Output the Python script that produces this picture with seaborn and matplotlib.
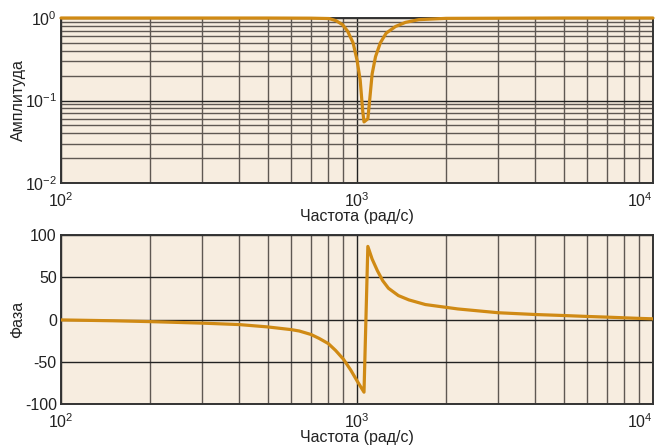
import numpy as np
import pandas as pd
import matplotlib
matplotlib.use("Agg")
import matplotlib.pyplot as plt
import seaborn as sns
from matplotlib.ticker import LogLocator, FixedLocator

# ---- data ----
mag_freq = [100, 500, 700, 805, 849, 894, 930, 970, 1000, 1025, 1045, 1056,
            1088, 1106, 1125, 1155, 1199, 1255, 1350, 1458, 1618, 2000, 5000, 10000]
mag_vals = [1.0, 0.999, 0.995, 0.985, 0.928, 0.83, 0.69, 0.50, 0.31, 0.177, 0.076, 0.055,
            0.060, 0.11, 0.21, 0.34, 0.50, 0.656, 0.79, 0.885, 0.955, 0.99, 1.0, 1.0]

ph_freq = [100, 150, 200, 300, 400, 500, 600, 638, 700, 746, 800, 846, 900, 953, 1000, 1056,
           1088, 1125, 1171, 1221, 1277, 1380, 1497, 1702, 1988, 2190, 3000, 4000,
           5000, 6000, 7000, 8000, 9000, 10000]
ph_vals = [-0.5, -1.5, -2.5, -4.3, -6.0, -8.8, -12.0, -13.6, -17.8, -22.5, -28.5, -36.5, -47.0,
           -60.0, -72.5, -86.0,
           86.5, 71.5, 58.0, 46.0, 37.0, 28.3, 23.2, 17.7, 14.5, 12.5, 8.0, 5.9,
           4.7, 3.6, 2.8, 2.0, 1.3, 0.8]

xlabel = "Частота (рад/с)"
ylabel_top = "Амплитуда"
ylabel_bot = "Фаза"
phase_ticks = [-100, -50, 0, 50, 100]

# ---- style ----
sns.set_theme(style="ticks")
plt.rcParams["font.family"] = ["Liberation Sans", "DejaVu Sans"]
plt.rcParams["mathtext.fontset"] = "custom"
plt.rcParams["mathtext.rm"] = "Liberation Sans"
plt.rcParams["mathtext.it"] = "Liberation Sans"
plt.rcParams["axes.unicode_minus"] = False

BG = "#F7EDE0"
LINE = "#D08A14"
MAJ = "#222222"
MIN = "#5f5853"
FS = 11.5

fig = plt.figure(figsize=(6.61, 4.47), dpi=100)
ax1 = fig.add_axes([61/661, 1-183/447, 592/661, 165/447])
ax2 = fig.add_axes([61/661, 1-404/447, 592/661, 169/447])

df_mag = pd.DataFrame({"w": mag_freq, "m": mag_vals})
df_ph = pd.DataFrame({"w": ph_freq, "p": ph_vals})

sns.lineplot(data=df_mag, x="w", y="m", ax=ax1, color=LINE, linewidth=2.3,
             sort=False, clip_on=False, zorder=5)
sns.lineplot(data=df_ph, x="w", y="p", ax=ax2, color=LINE, linewidth=2.3,
             sort=False, zorder=5)

for ax in (ax1, ax2):
    ax.set_facecolor(BG)
    ax.set_xscale("log")
    ax.set_xlim(100, 10000)
    ax.xaxis.set_major_locator(LogLocator(base=10, numticks=10))
    ax.xaxis.set_minor_locator(LogLocator(base=10, subs=np.arange(2, 10), numticks=20))
    ax.grid(True, which="major", color=MAJ, linewidth=1.0)
    ax.grid(True, which="minor", color=MIN, linewidth=1.0)
    ax.set_axisbelow(True)
    ax.tick_params(which="both", length=0, labelsize=FS, colors="#222222")
    ax.tick_params(axis="x", pad=6)
    ax.tick_params(axis="y", pad=3)
    for s in ax.spines.values():
        s.set_color("#333333")
        s.set_linewidth(1.4)
    ax.set_xlabel(xlabel, fontsize=FS, labelpad=-1, color="#222222")

ax1.set_yscale("log")
ax1.set_ylim(0.01, 1)
ax1.yaxis.set_major_locator(LogLocator(base=10, numticks=10))
ax1.yaxis.set_minor_locator(LogLocator(base=10, subs=np.arange(2, 10), numticks=20))
ax1.set_ylabel(ylabel_top, fontsize=FS, labelpad=-1, color="#222222")

ax2.set_ylim(-100, 100)
ax2.yaxis.set_major_locator(FixedLocator(phase_ticks))
ax2.set_ylabel(ylabel_bot, fontsize=FS, labelpad=0, color="#222222")

fig.canvas.draw()
for ax in (ax1, ax2):
    for lab in ax.get_xticklabels():
        x = lab.get_position()[0]
        if abs(x - 10000) < 1:
            lab.set_horizontalalignment("right")

fig.savefig("out.png", dpi=100, facecolor="white")
